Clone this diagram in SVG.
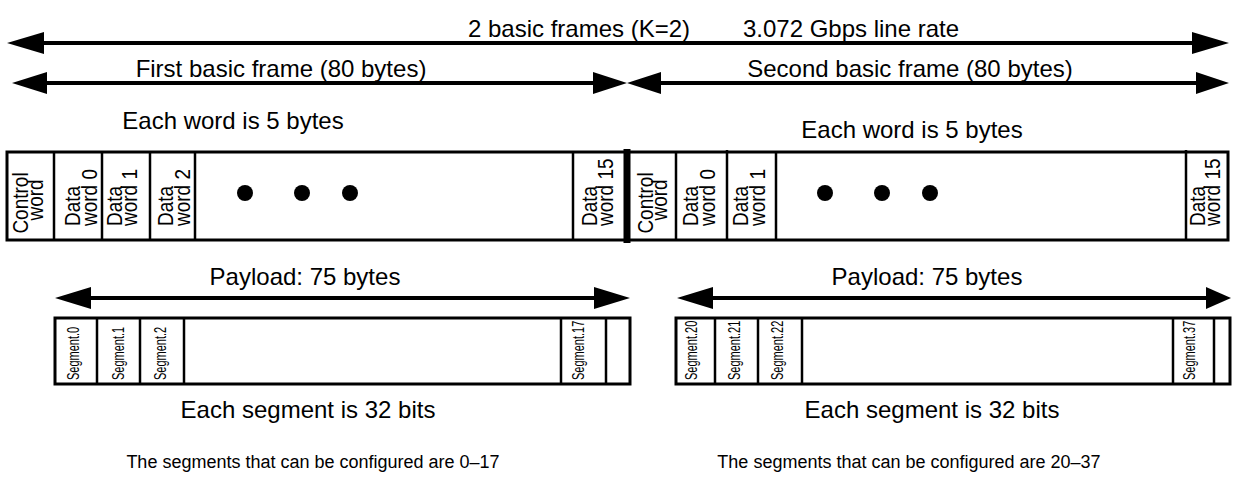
<svg xmlns="http://www.w3.org/2000/svg" width="1233" height="479" viewBox="0 0 1233 479">
<style>
text{font-family:"Liberation Sans",Arial,sans-serif;fill:#000}
.lbl{font-size:24px;text-anchor:middle}
.sm{font-size:18px}
.w{font-size:19px}
.s{font-size:11px}
.box{fill:#fff;stroke:#000;stroke-width:3}
.div{stroke:#000;stroke-width:2.5}
.ln{stroke:#000;stroke-width:4;fill:none}
.ah{fill:#000}
</style>
<rect width="1233" height="479" fill="#fff"/>
<g id="connectors">
<line class="ln" x1="40" y1="43" x2="1195" y2="43"/>
<polygon class="ah" points="7,43 44,32 44,54"/>
<polygon class="ah" points="1229,43 1192,32 1192,54"/>
<line class="ln" x1="40" y1="83" x2="600" y2="83"/>
<polygon class="ah" points="12,83 47,72 47,94"/>
<polygon class="ah" points="627,83 593,72 593,94"/>
<line class="ln" x1="655" y1="83" x2="1200" y2="83"/>
<polygon class="ah" points="627,83 661,72 661,94"/>
<polygon class="ah" points="1229,83 1196,72 1196,94"/>
<line class="ln" x1="85" y1="298" x2="600" y2="298"/>
<polygon class="ah" points="55,298 91,287 91,309"/>
<polygon class="ah" points="630,298 594,287 594,309"/>
<line class="ln" x1="705" y1="298" x2="1210" y2="298"/>
<polygon class="ah" points="677,298 713,287 713,309"/>
<polygon class="ah" points="1231,298 1206,287 1206,309"/>
</g>
<g id="labels">
<text class="lbl" x="579" y="37">2 basic frames (K=2)</text>
<text class="lbl" x="851" y="37">3.072 Gbps line rate</text>
<text class="lbl" x="281" y="77">First basic frame (80 bytes)</text>
<text class="lbl" x="910" y="77">Second basic frame (80 bytes)</text>
<text class="lbl" x="233" y="129">Each word is 5 bytes</text>
<text class="lbl" x="912" y="138">Each word is 5 bytes</text>
<text class="lbl" x="305" y="285">Payload: 75 bytes</text>
<text class="lbl" x="927" y="285">Payload: 75 bytes</text>
<text class="lbl" x="308" y="418">Each segment is 32 bits</text>
<text class="lbl" x="932" y="418">Each segment is 32 bits</text>
<text class="lbl sm" x="313" y="468">The segments that can be configured are 0–17</text>
<text class="lbl sm" x="909" y="468">The segments that can be configured are 20–37</text>
</g>
<g id="frame">
<rect class="box" x="7" y="152" width="1221" height="88"/>
<line class="div" x1="54" y1="152" x2="54" y2="240"/>
<line class="div" x1="102" y1="152" x2="102" y2="240"/>
<line class="div" x1="150" y1="152" x2="150" y2="240"/>
<line class="div" x1="195" y1="152" x2="195" y2="240"/>
<line class="div" x1="573" y1="152" x2="573" y2="240"/>
<line stroke="#000" stroke-width="7" x1="627" y1="149" x2="627" y2="243"/>
<line class="div" x1="676" y1="152" x2="676" y2="240"/>
<line class="div" x1="727" y1="150" x2="727" y2="240"/>
<line class="div" x1="776" y1="152" x2="776" y2="240"/>
<line class="div" x1="1186" y1="150" x2="1186" y2="240"/>
<circle cx="245" cy="193" r="8"/>
<circle cx="302" cy="193" r="8"/>
<circle cx="350" cy="193" r="8"/>
<circle cx="825" cy="193" r="8"/>
<circle cx="882" cy="193" r="8"/>
<circle cx="930" cy="193" r="8"/>
</g>
<g id="cw1"><text class="w" transform="translate(28,203) rotate(-90) scale(1,1.15)" text-anchor="middle">Control</text><text class="w" transform="translate(43,200) rotate(-90) scale(1,1.15)" text-anchor="middle">word</text></g>
<g id="dw0"><text class="w" transform="translate(80,226) rotate(-90) scale(1,1.15)">Data</text><text class="w" transform="translate(97,226) rotate(-90) scale(1,1.15)">word 0</text></g>
<g id="dw1"><text class="w" transform="translate(122,226) rotate(-90) scale(1,1.15)">Data</text><text class="w" transform="translate(137,226) rotate(-90) scale(1,1.15)">word 1</text></g>
<g id="dw2"><text class="w" transform="translate(173,226) rotate(-90) scale(1,1.15)">Data</text><text class="w" transform="translate(190,226) rotate(-90) scale(1,1.15)">word 2</text></g>
<g id="dw15a"><text class="w" transform="translate(597,226) rotate(-90) scale(1,1.15)">Data</text><text class="w" transform="translate(613,226) rotate(-90) scale(1,1.15)">word 15</text></g>
<g id="cw2"><text class="w" transform="translate(653,203) rotate(-90) scale(1,1.15)" text-anchor="middle">Control</text><text class="w" transform="translate(667,200) rotate(-90) scale(1,1.15)" text-anchor="middle">word</text></g>
<g id="dw0b"><text class="w" transform="translate(698,226) rotate(-90) scale(1,1.15)">Data</text><text class="w" transform="translate(715,226) rotate(-90) scale(1,1.15)">word 0</text></g>
<g id="dw1b"><text class="w" transform="translate(748,226) rotate(-90) scale(1,1.15)">Data</text><text class="w" transform="translate(765,226) rotate(-90) scale(1,1.15)">word 1</text></g>
<g id="dw15b"><text class="w" transform="translate(1205,226) rotate(-90) scale(1,1.15)">Data</text><text class="w" transform="translate(1220,226) rotate(-90) scale(1,1.15)">word 15</text></g>
<g id="seg1">
<rect class="box" x="55" y="318" width="575" height="66"/>
<line class="div" x1="97" y1="318" x2="97" y2="384"/>
<line class="div" x1="140" y1="318" x2="140" y2="384"/>
<line class="div" x1="184" y1="318" x2="184" y2="384"/>
<line class="div" x1="561" y1="318" x2="561" y2="384"/>
<line class="div" x1="606" y1="318" x2="606" y2="384"/>
<text class="s" transform="translate(79,380) rotate(-90) scale(1,1.5)">Segment.0</text>
<text class="s" transform="translate(124,380) rotate(-90) scale(1,1.5)">Segment.1</text>
<text class="s" transform="translate(166,380) rotate(-90) scale(1,1.5)">Segment.2</text>
<text class="s" transform="translate(584,380) rotate(-90) scale(1,1.5)">Segment.17</text>
</g>
<g id="seg2">
<rect class="box" x="676" y="318" width="554" height="66"/>
<line class="div" x1="715" y1="318" x2="715" y2="384"/>
<line class="div" x1="758" y1="318" x2="758" y2="384"/>
<line class="div" x1="802" y1="318" x2="802" y2="384"/>
<line class="div" x1="1173" y1="318" x2="1173" y2="384"/>
<line class="div" x1="1214" y1="318" x2="1214" y2="384"/>
<text class="s" transform="translate(697,380) rotate(-90) scale(1,1.5)">Segment.20</text>
<text class="s" transform="translate(740,380) rotate(-90) scale(1,1.5)">Segment.21</text>
<text class="s" transform="translate(783,380) rotate(-90) scale(1,1.5)">Segment.22</text>
<text class="s" transform="translate(1195,380) rotate(-90) scale(1,1.5)">Segment.37</text>
</g>
</svg>
